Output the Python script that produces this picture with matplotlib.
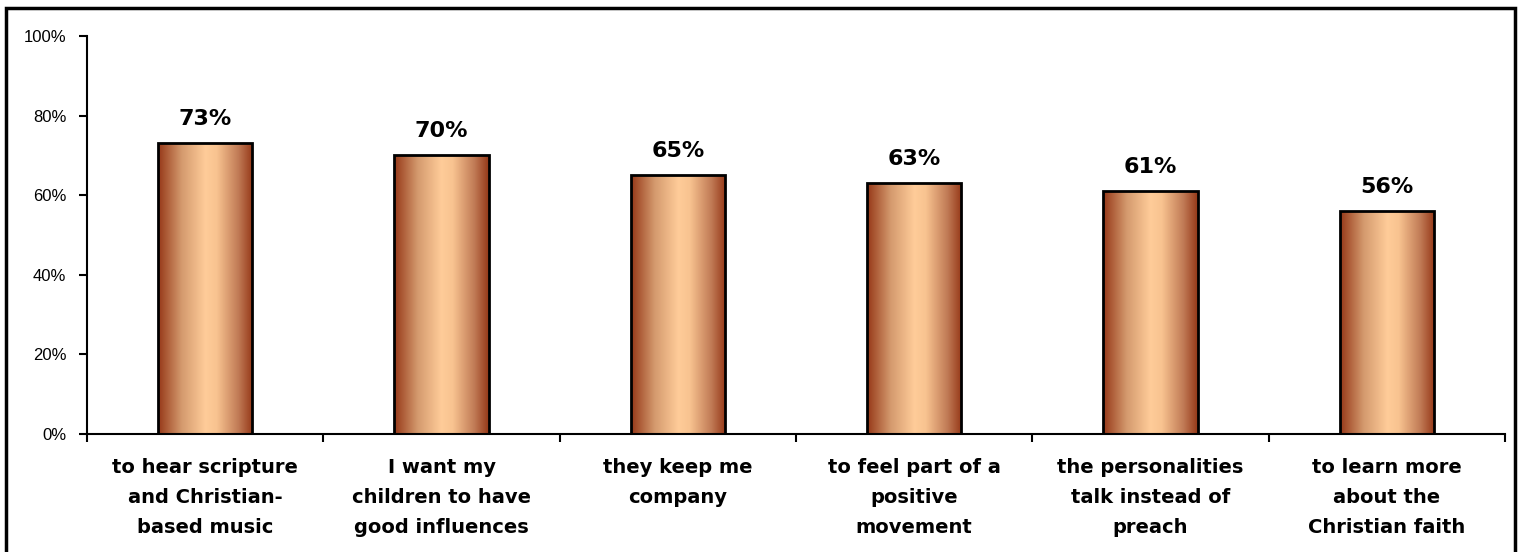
"""
Bar chart: reasons for listening (share of respondents), copper gradient bars.
"""
import numpy as np
import matplotlib
matplotlib.use('Agg')
import matplotlib.pyplot as plt
from matplotlib.colors import LinearSegmentedColormap
from matplotlib.patches import Rectangle
from matplotlib.ticker import FixedLocator, FuncFormatter

categories = [
    'to hear scripture\nand Christian-\nbased music',
    'I want my\nchildren to have\ngood influences',
    'they keep me\ncompany',
    'to feel part of a\npositive\nmovement',
    'the personalities\ntalk instead of\npreach',
    'to learn more\nabout the\nChristian faith',
]
values = [73, 70, 65, 63, 61, 56]
yticks = [0, 20, 40, 60, 80, 100]

plt.rcParams['font.family'] = ['Liberation Sans', 'DejaVu Sans']

fig = plt.figure(figsize=(15.18, 5.52), dpi=100)
ax = fig.add_axes([87 / 1518, 1 - 434 / 552, (1505 - 87) / 1518, (434 - 36) / 552])

copper = LinearSegmentedColormap.from_list(
    'copper_bar',
    [(0.0, '#963818'), (0.25, '#D49A6E'), (0.5, '#FFCC99'),
     (0.62, '#F8C390'), (0.85, '#C07A55'), (1.0, '#963818')])
grad = np.linspace(0, 1, 256).reshape(1, -1)

x = np.arange(len(values))
width = 0.4
bars = ax.bar(x, values, width=width, color='none', edgecolor='black', linewidth=2, zorder=3)
for b, v in zip(bars, values):
    x0, w, h = b.get_x(), b.get_width(), b.get_height()
    im = ax.imshow(grad, cmap=copper, aspect='auto', extent=[x0, x0 + w, 0, h], zorder=2)
    im.set_clip_path(b)
    ax.text(x0 + w / 2, h + 3.6, f'{v}%', ha='center', va='bottom',
            fontsize=16, fontweight='bold', family='DejaVu Sans')

ax.set_xlim(-0.5, len(values) - 0.5)
ax.set_ylim(0, 100)

ax.set_yticks(yticks)
ax.yaxis.set_major_formatter(FuncFormatter(lambda v, p: f'{v:.0f}%'))
ax.tick_params(axis='y', direction='out', length=6, width=1.5, labelsize=12, pad=9)

ax.set_xticks(x)
ax.set_xticklabels(categories, fontsize=14, fontweight='bold', linespacing=1.75,
                   family='DejaVu Sans')
ax.tick_params(axis='x', which='major', length=0, pad=17)
ax.xaxis.set_minor_locator(FixedLocator(np.arange(len(values) + 1) - 0.5))
ax.tick_params(axis='x', which='minor', direction='out', length=6, width=1.5)

for s in ['top', 'right']:
    ax.spines[s].set_visible(False)
for s in ['left', 'bottom']:
    ax.spines[s].set_linewidth(1.5)

# outer frame around the chart area
fig.patches.append(Rectangle((6 / 1518, -0.05), (1515 - 6) / 1518, 1.05 - 8 / 552,
                             transform=fig.transFigure, fill=False,
                             edgecolor='black', linewidth=2.5))

fig.savefig('out.png', dpi=100)
